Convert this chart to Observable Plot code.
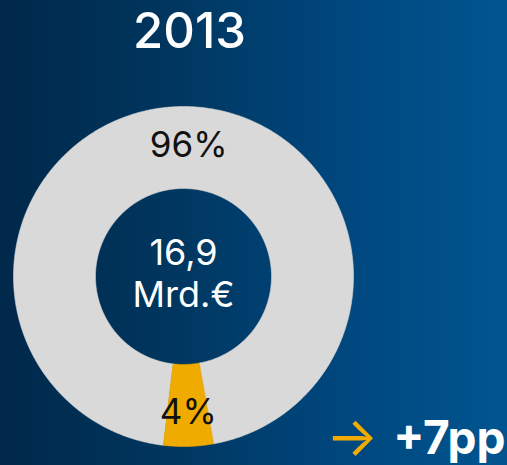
<!DOCTYPE html>
<html>
<head>
<meta charset="utf-8">
<script src="https://cdn.jsdelivr.net/npm/d3@7"></script>
<script src="https://cdn.jsdelivr.net/npm/@observablehq/plot@0.6"></script>
<style>
  html, body { margin: 0; padding: 0; background: #003a68; overflow: hidden; }
  #chart svg { display: block; }
</style>
</head>
<body>
<div id="chart"></div>
<script>
// ---- data ----
const title = "2013";
const categories = ["Rest", "Anteil"];
const shares = [95.3, 4.7];          // slice sizes
const labels = ["96%", "4%"];
const sliceColors = ["#d9d9d9", "#f0ab00"];
const centerLines = ["16,9", "Mrd.€"];
const deltaArrow = "→";
const deltaText = "+7pp";

// ---- layout constants ----
const W = 507, H = 465;
const cx = 183, cy = 276, Rpx = 170;   // donut centre / radius in px
const innerR = 88 / 170;
const startAngle = 186.8;              // degrees, clockwise from top

// ---- build ring polygons from the shares ----
const total = d3.sum(shares);
const poly = [];
const labelPts = [];
let acc = 0;
shares.forEach((v, i) => {
  const a0 = startAngle + acc / total * 360;
  const a1 = startAngle + (acc + v) / total * 360;
  acc += v;
  const n = Math.max(4, Math.ceil((a1 - a0) / 0.5));
  const rad = a => a * Math.PI / 180;
  for (let k = 0; k <= n; k++) {
    const a = rad(a0 + (a1 - a0) * k / n);
    poly.push({cat: categories[i], x: Math.sin(a), y: Math.cos(a)});
  }
  for (let k = n; k >= 0; k--) {
    const a = rad(a0 + (a1 - a0) * k / n);
    poly.push({cat: categories[i], x: innerR * Math.sin(a), y: innerR * Math.cos(a)});
  }
  const am = rad((a0 + a1) / 2);
  labelPts.push({cat: categories[i], label: labels[i], x: 0.77 * Math.sin(am), y: 0.77 * Math.cos(am)});
});

const xDomain = [-cx / Rpx, (W - cx) / Rpx];
const yDomain = [-(H - cy) / Rpx, cy / Rpx];
const font = "Inter, 'Open Sans', sans-serif";

const chart = Plot.plot({
  width: W,
  height: H,
  margin: 0,
  x: {domain: xDomain, range: [0, W], axis: null},
  y: {domain: yDomain, range: [H, 0], axis: null},
  color: {domain: categories, range: sliceColors},
  style: {
    background: "linear-gradient(to right, #00284a 0%, #003760 35%, #00467c 65%, #005591 100%)",
    fontFamily: font
  },
  marks: [
    Plot.line(poly, {x: "x", y: "y", z: "cat", fill: "cat", stroke: "cat", strokeWidth: 0.6, curve: "linear-closed"}),
    Plot.text(labelPts.filter(d => d.cat === categories[0]), {
      x: "x", y: "y", text: "label", fill: "#111", fontSize: 35, dx: 9, dy: 0
    }),
    Plot.text(labelPts.filter(d => d.cat === categories[1]), {
      x: "x", y: "y", text: "label", fill: "#111", fontSize: 35, dx: 1, dy: 5
    }),
    Plot.text([centerLines.join("\n")], {
      x: () => 0, y: () => 0, text: d => d, fill: "white", fontSize: 36, lineHeight: 1.17, dy: -4
    }),
    Plot.text([title], {
      x: () => 0, frameAnchor: "top", text: d => d, fill: "white", fontSize: 49, fontWeight: 500,
      lineAnchor: "bottom", dy: 47, dx: 6
    }),
    Plot.text([deltaText], {
      frameAnchor: "bottom-right", text: d => d, fill: "white", fontSize: 46, fontWeight: 700,
      textAnchor: "end", lineAnchor: "bottom", dx: -2, dy: -12
    }),
    Plot.text([deltaArrow], {
      frameAnchor: "bottom-right", text: d => d, fill: "#f0ab00", fontSize: 55,
      textAnchor: "end", lineAnchor: "middle", dx: -129, dy: -27
    })
  ]
});
document.getElementById("chart").appendChild(chart);
</script>
</body>
</html>
